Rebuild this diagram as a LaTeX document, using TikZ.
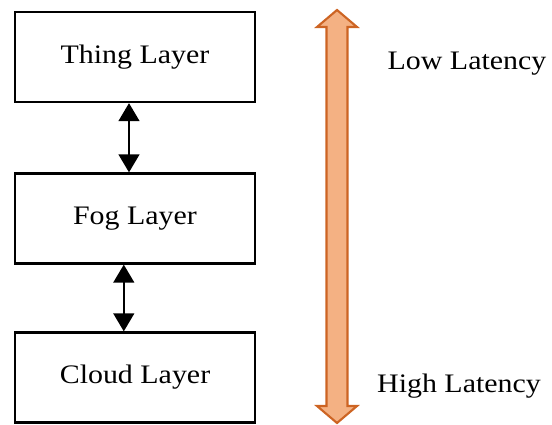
\documentclass[tikz,border=0pt]{standalone}
\usepackage{fontspec}
\setmainfont{Liberation Serif}[FakeStretch=1.12]
\usetikzlibrary{arrows.meta}

\definecolor{latfill}{RGB}{244,177,131}
\definecolor{latdraw}{RGB}{205,100,35}

\begin{document}
\begin{tikzpicture}[
  x=0.025cm, y=-0.025cm,
  layerbox/.style={shape=rectangle, draw=black, line width=1.6pt, fill=white, minimum width=6cm, minimum height=2.25cm, font=\fontsize{19}{22}\selectfont },
  link/.style={line width=1.4pt, {Triangle[width=0.52cm,length=0.45cm]}-{Triangle[width=0.52cm,length=0.45cm]} },
  latency/.style={fill=latfill, draw=latdraw, line width=1.5pt, line join=miter },
  lattext/.style={font=\fontsize{19}{22}\selectfont },
]
\useasboundingbox (0,0) rectangle (552,425);

%LAYERS
\node[layerbox] (thing) at (135,57) {Thing Layer};
\node[layerbox] (fog) at (135,218.5) {Fog Layer};
\node[layerbox] (cloud) at (135,377.5) {Cloud Layer};

\draw[link] ([xshift=-0.15cm]thing.south) -- ([xshift=-0.15cm]fog.north);
\draw[link] ([xshift=-0.28cm]fog.south) -- ([xshift=-0.28cm]cloud.north);

%LATENCY ARROW
\filldraw[latency] (337,10) -- (357,27) -- (347.5,27) -- (347.5,406) -- (357,406)
  -- (337,423) -- (317,406) -- (326.5,406) -- (326.5,27) -- (317,27) -- cycle;

\node[lattext] (low) at (467,64) {Low Latency};
\node[lattext] (high) at (459,386) {High Latency};

\end{tikzpicture}
\end{document}
